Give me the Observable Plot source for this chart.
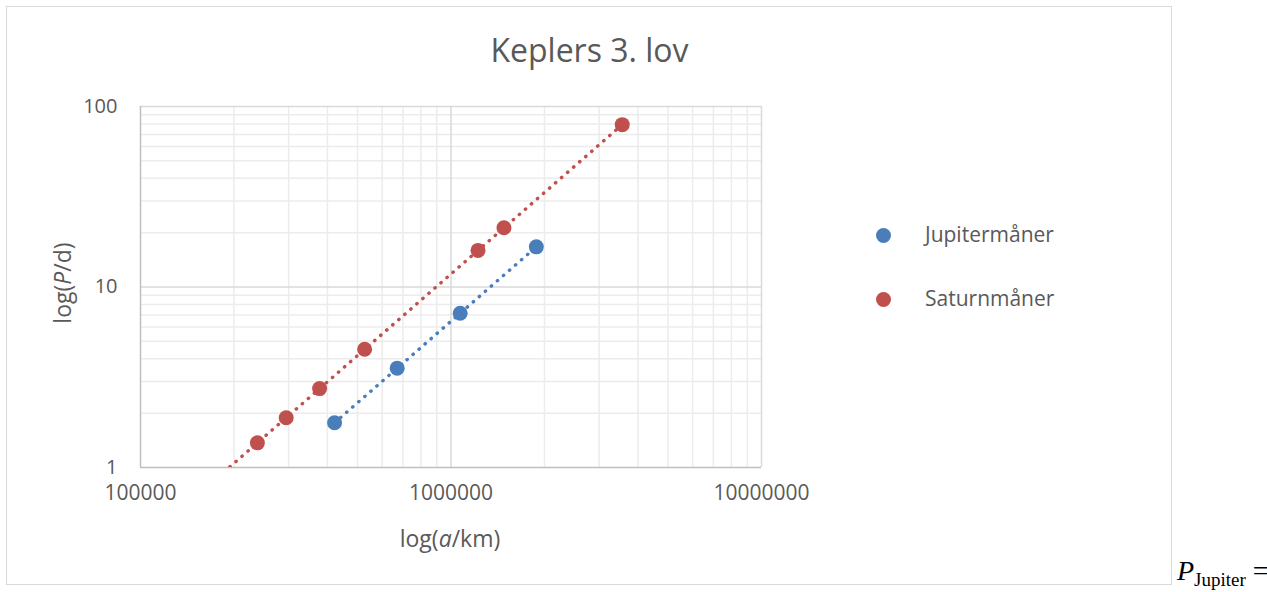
<!DOCTYPE html>
<html>
<head>
<meta charset="utf-8">
<script src="https://cdn.jsdelivr.net/npm/d3@7"></script>
<script src="https://cdn.jsdelivr.net/npm/@observablehq/plot@0.6"></script>
<style>
  html, body { margin: 0; padding: 0; background: #fff; overflow: hidden; }
  #wrap { position: relative; width: 1267px; height: 592px; font-family: "Open Sans", sans-serif; color: #595959; }
  #wrap svg { position: absolute; left: 0; top: 0; }
  .ov { position: absolute; white-space: nowrap; line-height: 1; }
  #border { position: absolute; left: 6px; top: 6px; width: 1166px; height: 579px; box-sizing: border-box; border: 1.5px solid #d9d9d9; }
  #title { left: 7px; width: 1165px; text-align: center; top: 34px; font-size: 32px; }
  .sw { position: absolute; width: 15px; height: 15px; border-radius: 50%; }
  .lt { position: absolute; font-size: 21px; line-height: 21px; white-space: nowrap; }
  #ytitle { left: 62px; top: 283px; font-size: 23px; transform: translate(-50%, -50%) rotate(-90deg); }
  #xtitle { left: 450px; top: 538px; font-size: 23px; transform: translate(-50%, -50%); }
  #pj { left: 1177px; top: 557px; font-family: "Liberation Serif", "Times New Roman", serif; color: #000; font-size: 28px; }
  #pj sub { font-size: 19px; font-style: normal; vertical-align: -6px; line-height: 0; }
</style>
</head>
<body>
<div id="wrap">
  <div id="border"></div>
</div>
<script>
// ---- data ----
const seriesNames = ["Jupitermåner", "Saturnmåner"];
const seriesColors = ["#4a7ebb", "#c0504d"];
// semi-major axis a (km) and orbital period P (days)
const jupiterA = [421700, 671034, 1070412, 1882709];
const jupiterP = [1.769, 3.551, 7.155, 16.689];
const saturnA = [185539, 237948, 294619, 377396, 527108, 1221870, 1481010, 3560820];
const saturnP = [0.942, 1.370, 1.888, 2.737, 4.518, 15.945, 21.277, 79.321];
// axis ticks
const xTicks = [100000, 1000000, 10000000];
const yTicks = [1, 10, 100];
const minorMult = [2, 3, 4, 5, 6, 7, 8, 9];

// ---- derived tables ----
const points = [
  ...jupiterA.map((a, i) => ({series: seriesNames[0], a, P: jupiterP[i]})),
  ...saturnA.map((a, i) => ({series: seriesNames[1], a, P: saturnP[i]}))
];
function powerFit(A, P, series) {
  const lx = A.map(Math.log10), ly = P.map(Math.log10);
  const mx = d3.mean(lx), my = d3.mean(ly);
  const b = d3.sum(lx, (v, i) => (v - mx) * (ly[i] - my)) / d3.sum(lx, v => (v - mx) ** 2);
  const c = my - b * mx;
  return d3.extent(A).map(a => ({series, a, P: 10 ** (c + b * Math.log10(a))}));
}
const trends = [
  ...powerFit(jupiterA, jupiterP, seriesNames[0]),
  ...powerFit(saturnA, saturnP, seriesNames[1])
];
const xMinor = xTicks.slice(0, -1).flatMap(t => minorMult.map(m => m * t));
const yMinor = yTicks.slice(0, -1).flatMap(t => minorMult.map(m => m * t));
const color = {domain: seriesNames, range: seriesColors};

const chart = Plot.plot({
  width: 1267,
  height: 592,
  marginLeft: 140,
  marginRight: 506,
  marginTop: 106,
  marginBottom: 125,
  style: {fontFamily: "Open Sans, sans-serif", color: "#595959", background: "transparent", overflow: "visible"},
  x: {type: "log", domain: [1e5, 1e7], axis: null},
  y: {type: "log", domain: [1, 100], axis: null},
  color,
  marks: [
    Plot.ruleX(xMinor, {stroke: "#ececec", strokeWidth: 1.5}),
    Plot.ruleY(yMinor, {stroke: "#ececec", strokeWidth: 1.5}),
    Plot.ruleX(xTicks.slice(1), {stroke: "#d9d9d9", strokeWidth: 1.5}),
    Plot.ruleY(yTicks.slice(1), {stroke: "#d9d9d9", strokeWidth: 1.5}),
    Plot.ruleX([xTicks[0]], {stroke: "#bfbfbf", strokeWidth: 1.5}),
    Plot.ruleY([yTicks[0]], {stroke: "#bfbfbf", strokeWidth: 1.5}),
    Plot.text(xTicks, {x: d => d, frameAnchor: "bottom", dy: 32, text: d => String(d), fontSize: 21, fill: "#595959"}),
    Plot.text(yTicks, {y: d => d, frameAnchor: "left", dx: -23, textAnchor: "end", text: d => String(d), fontSize: 20, fill: "#595959"}),
    Plot.line(trends, {x: "a", y: "P", z: "series", stroke: "series", strokeWidth: 3.4, strokeDasharray: "0.4 7.6", strokeLinecap: "round", clip: true}),
    Plot.dot(points.filter(d => d.P >= 1), {x: "a", y: "P", fill: "series", r: 7.5, stroke: "none"})
  ]
});
const wrap = document.getElementById("wrap");
wrap.appendChild(chart);

function addDiv(id, html) {
  const d = document.createElement("div");
  d.className = "ov";
  d.id = id;
  d.innerHTML = html;
  wrap.appendChild(d);
  return d;
}
addDiv("title", "Keplers 3. lov");
addDiv("ytitle", "log(<i>P</i>/d)");
addDiv("xtitle", "log(<i>a</i>/km)");
addDiv("pj", "<i>P</i><sub>Jupiter</sub> =");

// legend
const legendY = [235, 299];
seriesNames.forEach((name, i) => {
  const sw = document.createElement("div");
  sw.className = "sw";
  sw.style.left = (883 - 7.5) + "px";
  sw.style.top = (legendY[i] - 7.5) + "px";
  sw.style.background = seriesColors[i];
  wrap.appendChild(sw);
  const t = document.createElement("div");
  t.className = "lt";
  t.style.left = "925px";
  t.style.top = (legendY[i] - 11.5) + "px";
  t.textContent = name;
  wrap.appendChild(t);
});
</script>
</body>
</html>
